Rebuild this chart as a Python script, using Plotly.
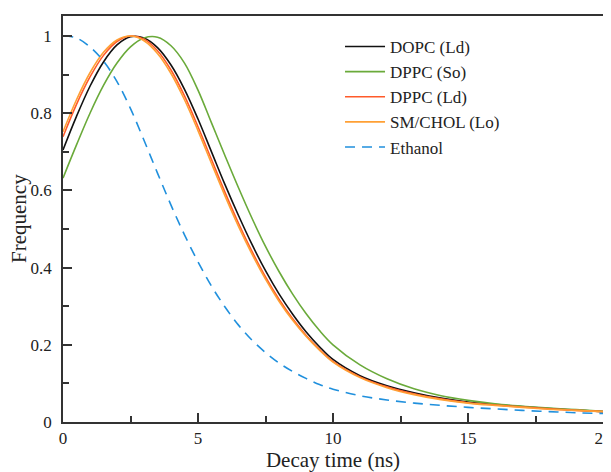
import plotly.graph_objects as go

# decay time grid (ns)
tempo = [0, 0.5, 1, 1.5, 2, 2.5, 3, 3.5, 4, 4.5, 5, 5.5, 6, 6.5, 7, 7.5, 8, 8.5, 9, 9.5,
         10, 11, 12, 13, 14, 15, 16, 17, 18, 19, 20]

dopc_ld = [0.705, 0.792, 0.870, 0.933, 0.977, 0.998, 0.995, 0.970, 0.925, 0.862, 0.785,
           0.700, 0.615, 0.535, 0.460, 0.392, 0.332, 0.280, 0.234, 0.195,
           0.162, 0.120, 0.094, 0.076, 0.062, 0.052, 0.045, 0.040, 0.035, 0.031, 0.027]

dppc_so = [0.632, 0.718, 0.800, 0.872, 0.930, 0.972, 0.995, 0.997, 0.975, 0.930, 0.860,
           0.775, 0.690, 0.607, 0.528, 0.455, 0.390, 0.332, 0.281, 0.237,
           0.200, 0.148, 0.112, 0.086, 0.068, 0.056, 0.047, 0.041, 0.036, 0.032, 0.028]

dppc_ld = [0.739, 0.823, 0.894, 0.950, 0.986, 1.000, 0.992, 0.962, 0.912, 0.845, 0.765,
           0.680, 0.595, 0.515, 0.442, 0.376, 0.318, 0.268, 0.225, 0.188,
           0.157, 0.117, 0.091, 0.073, 0.060, 0.050, 0.044, 0.039, 0.034, 0.030, 0.027]

sm_chol_lo = [0.752, 0.835, 0.905, 0.958, 0.990, 1.000, 0.988, 0.955, 0.903, 0.835, 0.755,
              0.670, 0.586, 0.507, 0.435, 0.370, 0.313, 0.264, 0.222, 0.186,
              0.155, 0.115, 0.089, 0.071, 0.058, 0.049, 0.043, 0.038, 0.033, 0.030, 0.027]

etanol = [1.000, 0.995, 0.972, 0.935, 0.882, 0.812, 0.730, 0.645, 0.562, 0.485, 0.415,
          0.352, 0.298, 0.251, 0.212, 0.180, 0.153, 0.131, 0.113, 0.097,
          0.085, 0.068, 0.057, 0.049, 0.043, 0.038, 0.034, 0.030, 0.027, 0.024, 0.022]

series = [
    ('DOPC (Ld)', dopc_ld, '#111111', 'solid'),
    ('DPPC (So)', dppc_so, '#6aaa3a', 'solid'),
    ('DPPC (Ld)', dppc_ld, '#ff5a2a', 'solid'),
    ('SM/CHOL (Lo)', sm_chol_lo, '#ffa035', 'solid'),
    ('Ethanol', etanol, '#2090dd', '10px,7px'),
]

fig = go.Figure()
for nome, valores, cor, traco in series:
    fig.add_trace(go.Scatter(
        x=tempo, y=valores, name=nome, mode='lines',
        line=dict(color=cor, width=1.6, dash=traco, shape='spline', smoothing=1)
    ))

eixo = dict(showgrid=False, zeroline=False, showline=True, linecolor='#333333',
            linewidth=1.5, mirror=True, ticks='inside', tickcolor='#333333',
            tickwidth=1.5, ticklen=9, automargin=False,
            tickfont=dict(size=17, color='#222222'))

fig.update_xaxes(range=[0, 20], dtick=5,
                 title=dict(text='Decay time (ns)', standoff=1, font=dict(size=21, color='#222222')),
                 minor=dict(ticks='inside', dtick=2.5, ticklen=6, tickcolor='#333333', tickwidth=1.5),
                 **eixo)
fig.update_yaxes(range=[0, 1.052], dtick=0.2, ticklabelstandoff=6,
                 minor=dict(ticks='inside', dtick=0.1, ticklen=6, tickcolor='#333333', tickwidth=1.5),
                 **eixo)

# y title as an annotation so it does not crowd the tick labels
fig.add_annotation(text='Frequency', textangle=-90, xref='paper', yref='paper',
                   x=0, y=0.5, xanchor='center', yanchor='middle', xshift=-44,
                   showarrow=False, font=dict(size=21, color='#222222'))

# the page body adds an 8px offset, margins are shifted to compensate
fig.update_layout(
    width=611, height=472,
    margin=dict(l=55, r=16, t=8, b=58),
    plot_bgcolor='white', paper_bgcolor='white',
    font=dict(family='Liberation Serif', size=17, color='#222222'),
    legend=dict(x=0.513, y=0.968, xanchor='left', yanchor='top', bgcolor='rgba(0,0,0,0)',
                font=dict(size=17), tracegroupgap=0, itemwidth=40),
    showlegend=True,
)

fig.write_html("out.html")
